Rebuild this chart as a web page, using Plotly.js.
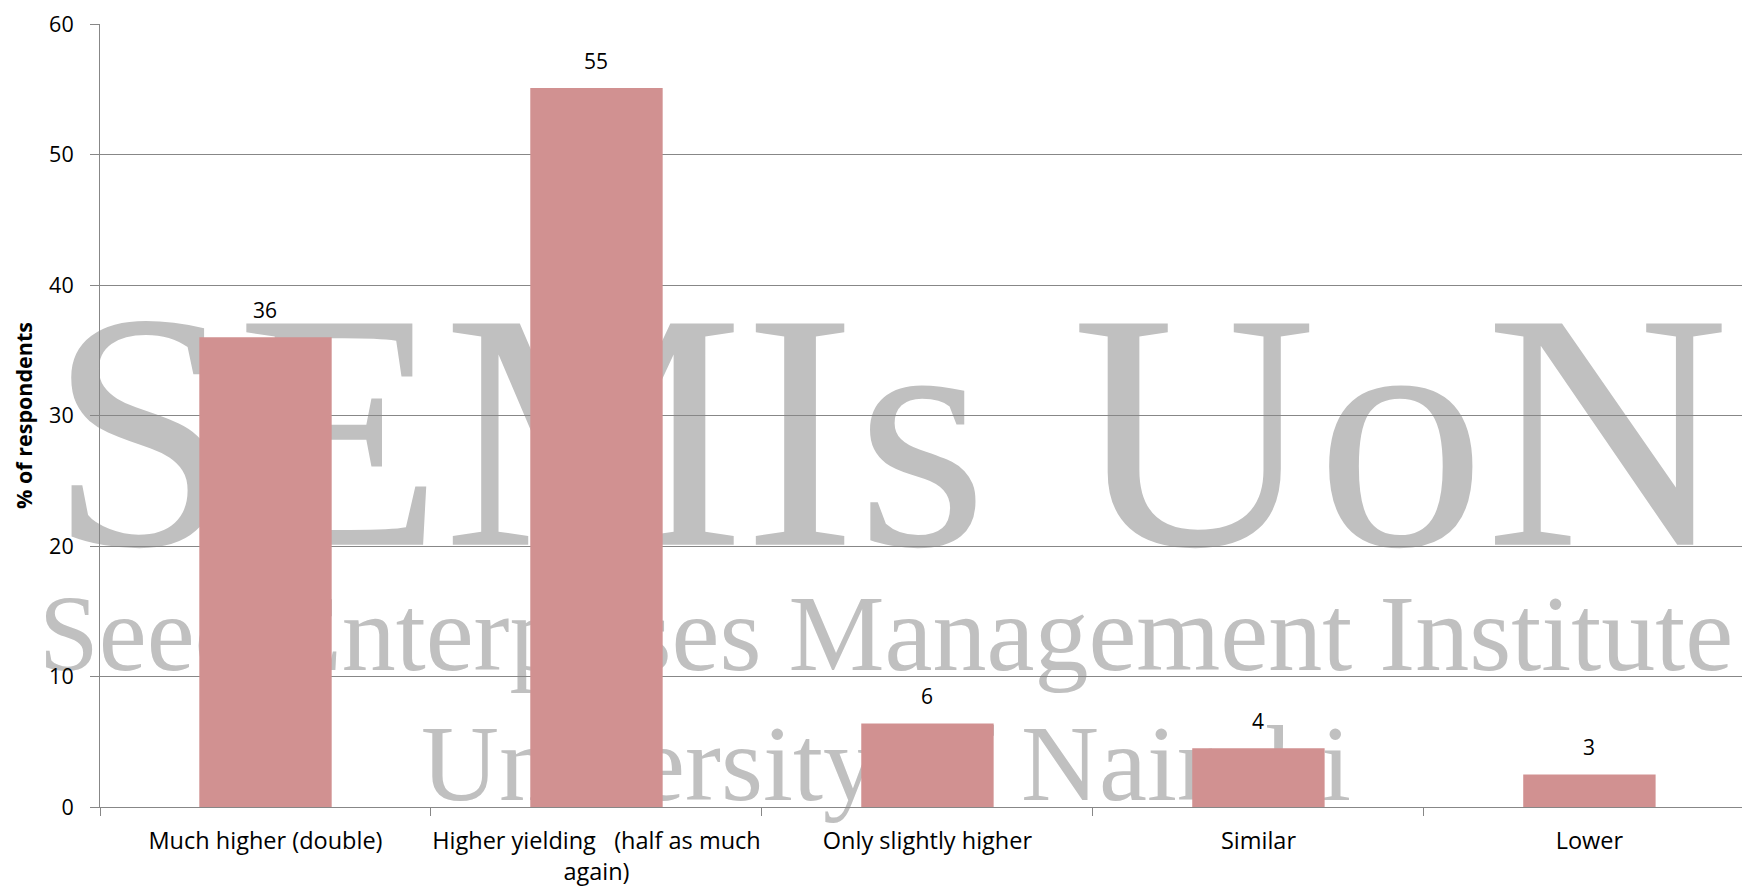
<!DOCTYPE html>
<html>
<head>
<meta charset="utf-8">
<script src="https://cdn.plot.ly/plotly-3.0.1.min.js"></script>
<style>
  html, body { margin: 0; padding: 0; background: #ffffff; }
  #chart { width: 1742px; height: 886px; }
</style>
</head>
<body>
<div id="chart"></div>
<script>
// ---- data ----
const categories = [
  "Much higher (double)",
  "Higher yielding\u00a0\u00a0 (half as much<br>again)",
  "Only slightly higher",
  "Similar",
  "Lower"
];
const values = [36.0, 55.1, 6.4, 4.5, 2.5];
const valueLabels = ["36", "55", "6", "4", "3"];
const yTickValues = [0, 10, 20, 30, 40, 50, 60];
const yAxisTitle = "% of respondents";
const watermarkLines = ["SEMIs UoN", "Seed Enterprises Management Institute", "University of Nairobi"];

// ---- styling / layout ----
const textFont = "Open Sans, Segoe UI, Arial, sans-serif";
const gridGray = "#878787";
const barColor = "#D19191";

// Watermark layer (bottom subplot, pixel-like coordinates)
const wmX = [889, 886, 886];
const wmY = [460, 643, 773];
const wmSize = [338, 108, 108];

const watermark = {
  type: "scatter",
  mode: "text",
  x: wmX,
  y: wmY,
  text: watermarkLines,
  textposition: "middle center",
  textfont: { family: "Liberation Serif, Times New Roman, serif", size: wmSize, color: "#C0C0C0" },
  cliponaxis: false,
  hoverinfo: "skip",
  showlegend: false,
  xaxis: "x",
  yaxis: "y"
};

const bars = {
  type: "bar",
  x: categories,
  y: values,
  width: 0.4,
  marker: { color: barColor, line: { width: 0 } },
  hoverinfo: "skip",
  showlegend: false,
  xaxis: "x2",
  yaxis: "y2"
};

const annotations = categories.map((c, i) => ({
  xref: "x2", yref: "y2",
  x: c, y: values[i],
  text: valueLabels[i],
  showarrow: false,
  yanchor: "middle",
  yshift: 27,
  font: { family: textFont, size: 21, color: "#000000" }
}));

const layout = {
  width: 1742,
  height: 886,
  margin: { l: 100, r: 0, t: 23.67, b: 79.33, pad: 0 },
  paper_bgcolor: "#ffffff",
  plot_bgcolor: "rgba(0,0,0,0)",
  showlegend: false,
  xaxis: { visible: false, range: [100, 1742], domain: [0, 1], fixedrange: true },
  yaxis: { visible: false, range: [806.67, 23.67], domain: [0, 1], fixedrange: true },
  xaxis2: {
    anchor: "y2",
    domain: [0, 1],
    type: "category",
    range: [-0.5, 4.461],
    tickson: "boundaries",
    tickangle: 0,
    ticks: "outside",
    ticklen: 8,
    tickwidth: 1,
    tickcolor: gridGray,
    showline: true,
    linecolor: gridGray,
    linewidth: 1,
    showgrid: false,
    zeroline: false,
    tickfont: { family: textFont, size: 23.5, color: "#000000" },
    ticklabelstandoff: 13,
    fixedrange: true
  },
  yaxis2: {
    anchor: "x2",
    domain: [0, 1],
    range: [0, 60],
    tickmode: "array",
    tickvals: yTickValues,
    ticks: "outside",
    ticklen: 9,
    tickwidth: 1,
    tickcolor: gridGray,
    showline: true,
    linecolor: gridGray,
    linewidth: 1,
    showgrid: true,
    gridcolor: gridGray,
    gridwidth: 1,
    zeroline: false,
    tickfont: { family: textFont, size: 21.5, color: "#000000" },
    ticklabelstandoff: 12,
    title: { text: "<b>" + yAxisTitle + "</b>", font: { family: textFont, size: 21.5, color: "#000000" }, standoff: 10 },
    fixedrange: true
  },
  annotations: annotations
};

Plotly.newPlot("chart", [watermark, bars], layout, { staticPlot: true, displayModeBar: false });
</script>
</body>
</html>
